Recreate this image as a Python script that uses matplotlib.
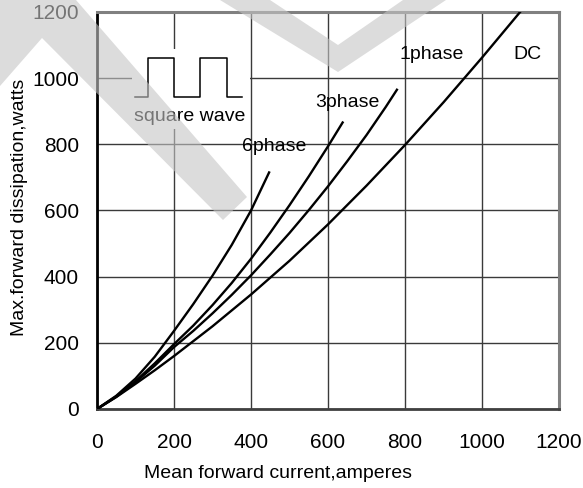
import matplotlib
matplotlib.use('Agg')
import matplotlib.pyplot as plt
from matplotlib import font_manager
from matplotlib.patches import Polygon, Rectangle
from matplotlib.transforms import Affine2D

# values (amperes, watts)
i_6phase = [0, 50, 100, 150, 200, 250, 300, 350, 400, 447]
p_6phase = [0, 40, 92, 158, 236, 317, 403, 496, 600, 715]
i_3phase = [0, 50, 100, 150, 200, 250, 300, 350, 400, 450, 500, 550, 600, 638]
p_3phase = [0, 38, 84, 138, 196, 252, 314, 381, 454, 533, 616, 703, 794, 866]
i_1phase = [0, 50, 100, 150, 200, 250, 300, 350, 400, 450, 500, 550, 600, 650, 700, 750, 779]
p_1phase = [0, 37, 81, 131, 187, 236, 289, 345, 404, 467, 532, 601, 673, 749, 828, 913, 965]
i_dc = [0, 50, 100, 150, 200, 300, 400, 500, 600, 700, 800, 900, 1000, 1099]
p_dc = [0, 36, 76, 117, 160, 250, 346, 448, 558, 675, 798, 927, 1062, 1200]

curve_labels = ['6phase', '3phase', '1phase', 'DC']
label_pos = [(377, 794), (566, 927), (787, 1073), (1081, 1073)]

# square wave sketch in the top-left corner
wave_x = [99, 132, 132, 200, 200, 268, 268, 338, 338, 377]
wave_y = [942, 942, 1061, 1061, 942, 942, 1061, 1061, 942, 942]

ticks = [0, 200, 400, 600, 800, 1000, 1200]


def pick_font(names):
    for n in names:
        try:
            font_manager.findfont(font_manager.FontProperties(family=n),
                                  fallback_to_default=False)
            return n
        except Exception:
            pass
    return 'DejaVu Sans'


sans = pick_font(['Liberation Sans', 'Arial', 'DejaVu Sans'])
narrow = pick_font(['Liberation Sans Narrow', 'DejaVu Sans Condensed', 'Liberation Sans'])
plt.rcParams['font.family'] = sans

fig = plt.figure(figsize=(5.83, 4.88), dpi=100)
ax = fig.add_axes([97 / 583, 1 - 409 / 488, 462 / 583, 397 / 488])

ax.set_xlim(0, 1200)
ax.set_ylim(0, 1200)
ax.set_xticks(ticks)
ax.set_yticks(ticks)
ax.tick_params(length=0, labelsize=15)
ax.tick_params(axis='x', pad=17)
ax.tick_params(axis='y', pad=13)
for lab in ax.get_xticklabels() + ax.get_yticklabels():
    lab.set_family(narrow)

ax.grid(True, color='#3a3a3a', linewidth=1.0)
ax.set_axisbelow(True)

for side in ['top', 'right']:
    ax.spines[side].set_color('#808080')
    ax.spines[side].set_linewidth(2.2)
ax.spines['left'].set_color('black')
ax.spines['left'].set_linewidth(2.0)
ax.spines['bottom'].set_color('#404040')
ax.spines['bottom'].set_linewidth(2.0)

# blank patch behind the square wave (the grid stops there)
ax.add_patch(Rectangle((91, 845), 306, 243, facecolor='white', edgecolor='none', zorder=1.5))
ax.plot(wave_x, wave_y, color='black', linewidth=1.1, zorder=3)
ax.text(242, 883, 'square wave', fontsize=14, ha='center', va='center', zorder=3)

for xs, ys in [(i_6phase, p_6phase), (i_3phase, p_3phase),
               (i_1phase, p_1phase), (i_dc, p_dc)]:
    ax.plot(xs, ys, color='black', linewidth=1.7, zorder=3,
            solid_joinstyle='round')

for name, (x, y) in zip(curve_labels, label_pos):
    fam = narrow if name == 'DC' else sans
    ax.text(x, y, name, fontsize=14, ha='left', va='center', family=fam, zorder=4)

ax.set_xlabel('Mean forward current,amperes', fontsize=14)
ax.xaxis.set_label_coords((278 - 97) / 462, -(465 - 409) / 397)
ax.set_ylabel('Max.forward dissipation,watts', fontsize=14)
ax.yaxis.set_label_coords(-(97 - 28) / 462, 0.509)

# light grey watermark laid over the whole picture (pixel coordinates)
px = Affine2D().scale(1 / 583, -1 / 488).translate(0, 1) + fig.transFigure
mark_left = [(0, 86), (42, 38), (223, 220), (247, 197), (76, 0), (0, 0)]
mark_v = [(220, 0), (338, 72), (446, 0), (403, 0), (338, 45), (270, 0)]
for pts in [mark_left, mark_v]:
    fig.patches.append(Polygon(pts, closed=True, transform=px, facecolor='#c5c5c5',
                               edgecolor='none', alpha=0.6, zorder=10))

fig.savefig('out.png', dpi=100)
